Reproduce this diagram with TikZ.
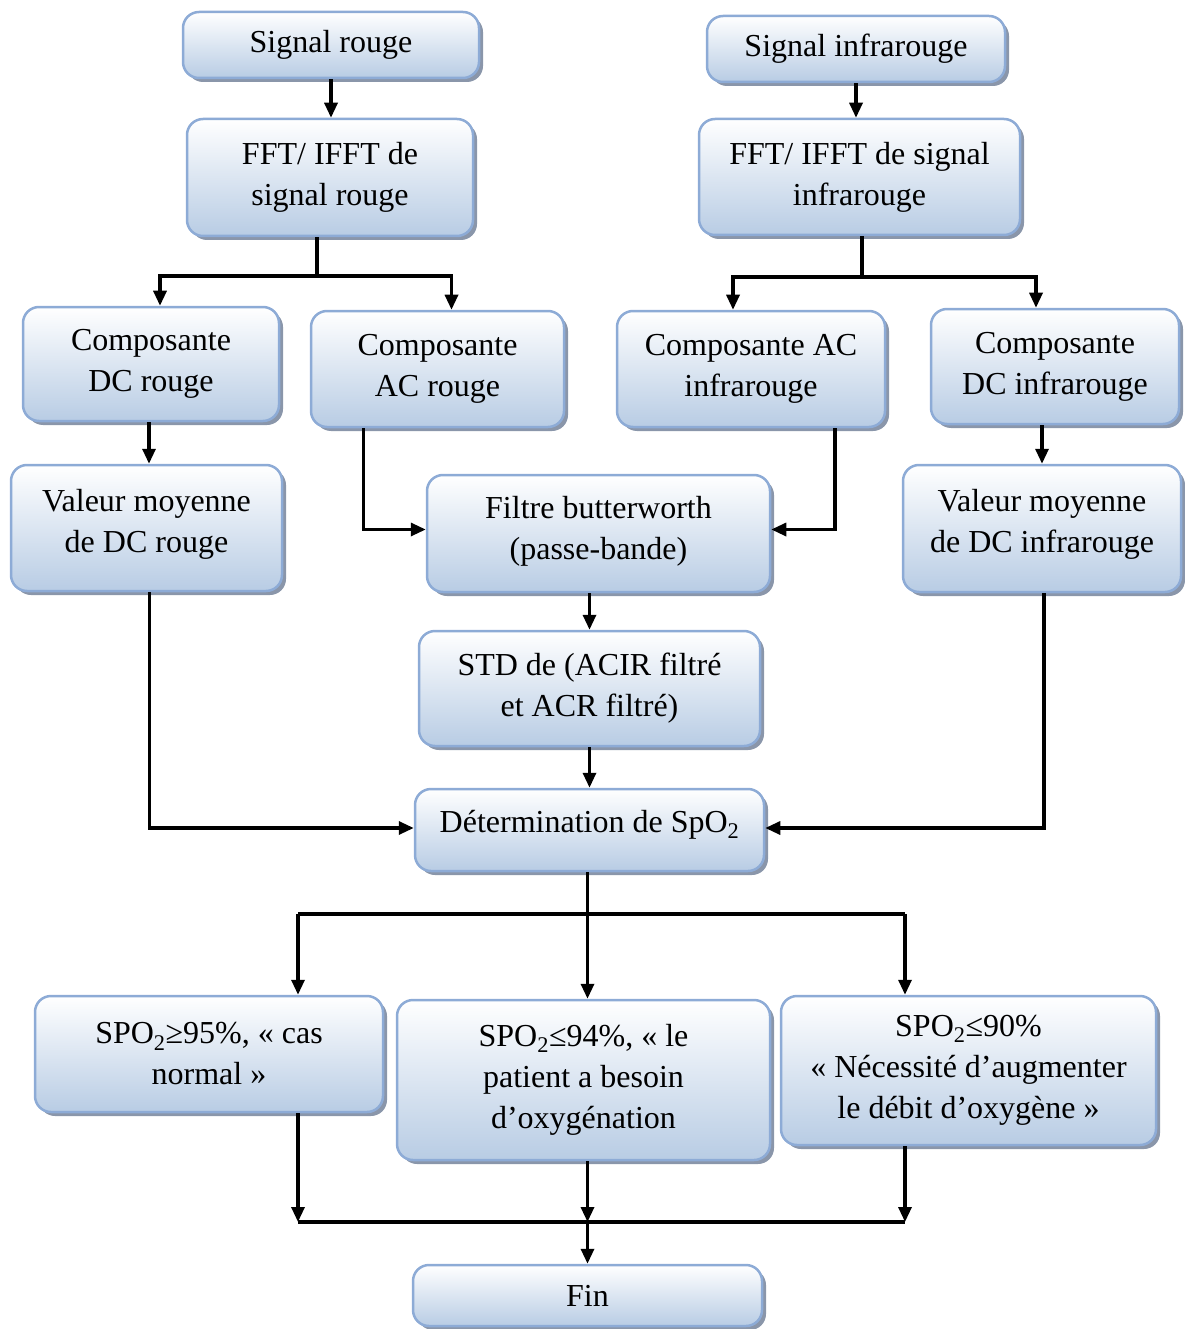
\documentclass[tikz,border=0pt]{standalone}
\usepackage{fontspec}
\setmainfont{Liberation Serif}
\usetikzlibrary{arrows.meta,shadows,calc}
\definecolor{bxborder}{RGB}{141,171,214}
\definecolor{bxbottom}{RGB}{184,204,228}
\definecolor{bxshadow}{RGB}{138,150,170}
\tikzset{
  box/.style={draw=bxborder, line width=2.5pt, rounded corners=16pt,
    top color=white, bottom color=bxbottom, align=center,
    font=\fontsize{32}{41}\selectfont, inner sep=0pt,
    general shadow={shadow xshift=4pt, shadow yshift=-4pt, fill=bxshadow}},
  conn/.style={line width=3.2pt, black},
  arr/.style={conn, -{Triangle[length=15pt,width=13pt]}},
}
% \mybox[options]{name}{x1}{y1}{x2}{y2}{text}
\newcommand{\mybox}[7][]{\node[box, minimum width={(#5-#3)*1pt}, minimum height={(#6-#4)*1pt}, #1] (#2) at ({(#3+#5)/2},{(#4+#6)/2}) {#7};}
\begin{document}
\begin{tikzpicture}[x=1pt,y=-1pt]
\useasboundingbox (0,0) rectangle (1184,1329);
\mybox{sr}{183}{12}{479}{78}{Signal rouge}
\mybox{fr}{187}{119}{473}{236}{FFT/ IFFT de\\signal rouge}
\mybox{si}{707}{16}{1005}{82}{Signal infrarouge}
\mybox{fi}{699}{119}{1020}{235}{FFT/ IFFT de signal\\infrarouge}
\mybox{dcr}{23}{307}{279}{421}{Composante\\DC rouge}
\mybox{acr}{311}{311}{564}{427}{Composante\\AC rouge}
\mybox{aci}{617}{311}{885}{427}{Composante AC\\infrarouge}
\mybox{dci}{931}{309}{1179}{424}{Composante\\DC infrarouge}
\mybox[text depth=15pt]{vr}{11}{465}{282}{591}{Valeur moyenne\\de DC rouge}
\mybox[text depth=11pt]{filt}{427}{475}{770}{592}{Filtre butterworth\\(passe-bande)}
\mybox[text depth=15pt]{vi}{903}{465}{1181}{592}{Valeur moyenne\\de DC infrarouge}
\mybox{std}{419}{631}{760}{746}{STD de (ACIR filtré\\et ACR filtré)}
\mybox[text depth=17pt]{det}{415}{789}{764}{871}{Détermination de SpO\textsubscript{2}}
\mybox{s1}{35}{996}{383}{1112}{SPO\textsubscript{2}≥95\%, «~cas\\normal~»}
\mybox{s2}{397}{1000}{770}{1160}{SPO\textsubscript{2}≤94\%, «~le\\patient a besoin\\d’oxygénation}
\mybox{s3}{781}{996}{1156}{1145}{SPO\textsubscript{2}≤90\%\\«~Nécessité d’augmenter\\le débit d’oxygène~»}
\mybox{fin}{413}{1265}{762}{1326}{Fin}
% top
\draw[arr] (sr.south) -- (sr.south |- fr.north);
\draw[arr] (si.south) -- (si.south |- fi.north);
\coordinate (j1) at (317,276);
\coordinate (j2) at (862,277);
\draw[conn] (fr.south -| j1) -- (j1);
\draw[arr] (j1) -| ([xshift=9pt]dcr.north);
\draw[arr] (j1) -| ([xshift=14pt]acr.north);
\draw[conn] (fi.south -| j2) -- (j2);
\draw[arr] (j2) -| ([xshift=-18pt]aci.north);
\draw[arr] (j2) -| ([xshift=-19pt]dci.north);
% middle
\draw[arr] ([xshift=-2pt]dcr.south) -- ([xshift=-2pt]dcr.south |- vr.north);
\draw[arr] (vi.north |- dci.south) -- (vi.north);
\draw[arr] ([xshift=-74pt]acr.south) |- ([yshift=4pt]filt.west);
\draw[arr] ([xshift=84pt]aci.south) |- ([yshift=4pt]filt.east);
\draw[arr] (std.north |- filt.south) -- (std.north);
\draw[arr] (std.south) -- (det.north);
\draw[arr] ([xshift=3pt]vr.south) |- ([yshift=2pt]det.west);
\draw[arr] ([xshift=2pt]vi.south) |- ([yshift=2pt]det.east);
% bottom
\coordinate (hl) at (298,914);
\coordinate (hr) at (905,914);
\coordinate (bl) at (298,1222);
\coordinate (br) at (905,1222);
\draw[arr] ([xshift=-2pt]det.south) -- ([xshift=-2pt]det.south |- s2.north);
\draw[conn] (hl) -- (hr);
\draw[arr] (hl) -- (hl |- s1.north);
\draw[arr] (hr) -- (hr |- s3.north);
\draw[arr] (bl |- s1.south) -- (bl);
\draw[arr] (br |- s3.south) -- (br);
\draw[arr] ([xshift=-2pt]det.south |- s2.south) -- ([xshift=-2pt]det.south |- bl);
\draw[conn] (bl) -- (br);
\draw[arr] ([xshift=-2pt]det.south |- bl) -- ([xshift=-2pt]det.south |- fin.north);
\end{tikzpicture}
\end{document}
